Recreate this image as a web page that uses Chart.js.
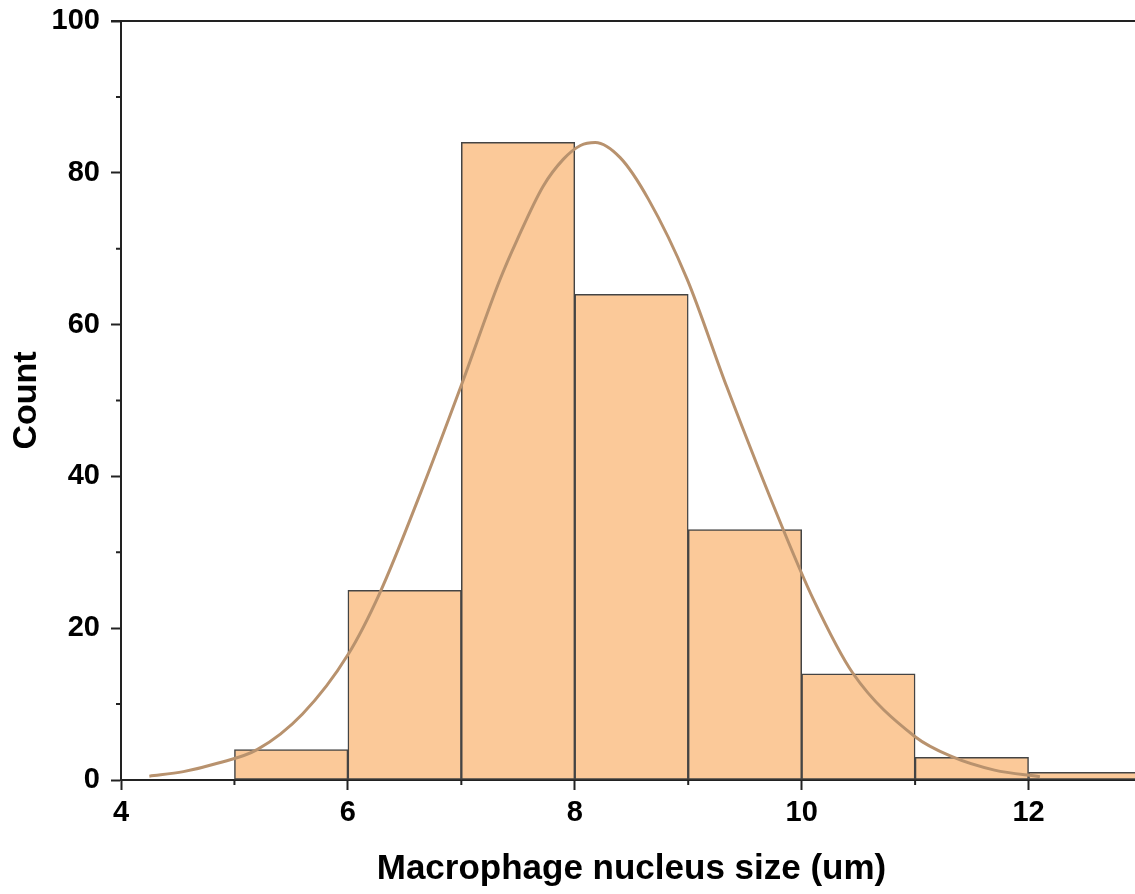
<!DOCTYPE html>
<html>
<head>
<meta charset="utf-8">
<script src="https://cdn.jsdelivr.net/npm/chart.js@4/dist/chart.umd.min.js"></script>
<style>
  html, body { margin: 0; padding: 0; background: #fff; overflow: hidden; }
  #wrap { width: 1135px; height: 894px; overflow: hidden; }
</style>
</head>
<body>
<div id="wrap"><canvas id="histChart" width="1142" height="894"></canvas></div>
<script>
// histogram bins (left edge, width 1) and counts
const binStarts = [5, 6, 7, 8, 9, 10, 11, 12];
const binCounts = [4, 25, 84, 64, 33, 14, 3, 1];

// normal fit curve
const curveX = [4.25, 4.55, 4.85, 5.2, 5.6, 6.0, 6.28, 6.64, 7.0, 7.34, 7.49, 7.72, 7.9, 8.05, 8.18, 8.4, 8.65, 8.99, 9.34, 9.84, 10.1, 10.45, 11.0, 11.32, 11.7, 12.1];
const curveY = [0.5, 1.1, 2.2, 4.0, 8.7, 16.5, 24.6, 37.8, 52, 65.9, 71.1, 78.2, 81.8, 83.6, 84, 82, 76.5, 66, 51.8, 32.9, 23.9, 14.1, 5.7, 3.1, 1.3, 0.44];

const xMajor = [4, 6, 8, 10, 12];
const xMinor = [5, 7, 9, 11, 13];
const yMajor = [0, 20, 40, 60, 80, 100];
const yMinor = [10, 30, 50, 70, 90];

const axisColor = "#222";
const fontFamily = "'Liberation Sans', Arial, Helvetica, sans-serif";

// minor ticks + top frame line
const framePlugin = {
  id: "frame",
  afterDraw(chart) {
    const ctx = chart.ctx;
    const area = chart.chartArea;
    const xs = chart.scales.x;
    const ys = chart.scales.y;
    ctx.save();
    ctx.strokeStyle = axisColor;
    ctx.lineWidth = 2;
    ctx.beginPath();
    ctx.moveTo(area.left - 10, area.top);
    ctx.lineTo(area.right + 2, area.top);
    xMinor.forEach(v => {
      const px = xs.getPixelForValue(v);
      ctx.moveTo(px, area.bottom);
      ctx.lineTo(px, area.bottom + 5);
    });
    yMinor.forEach(v => {
      const py = ys.getPixelForValue(v);
      ctx.moveTo(area.left, py);
      ctx.lineTo(area.left - 5, py);
    });
    ctx.stroke();
    ctx.restore();
  }
};

const ctx = document.getElementById("histChart").getContext("2d");
const chart = new Chart(ctx, {
  data: {
    datasets: [
      {
        type: "line",
        data: curveX.map((x, i) => ({ x: x, y: curveY[i] })),
        borderColor: "#b8926e",
        borderWidth: 3,
        pointRadius: 0,
        cubicInterpolationMode: "monotone",
        order: 1,
      },
      {
        type: "bar",
        data: binStarts.map((s, i) => ({ x: s + 0.5, y: binCounts[i] })),
        backgroundColor: "#fbc999",
        borderColor: "#444",
        borderWidth: 1.5,
        borderSkipped: false,
        barPercentage: 1,
        categoryPercentage: 1,
        grouped: false,
        order: 2,
      },
    ],
  },
  plugins: [framePlugin],
  options: {
    responsive: false,
    animation: false,
    layout: { padding: { top: 21, right: 0, left: 0, bottom: 0 } },
    plugins: { legend: { display: false }, tooltip: { enabled: false } },
    scales: {
      x: {
        type: "linear",
        offset: false,
        min: 4,
        max: 13,
        afterBuildTicks: scale => { scale.ticks = xMajor.map(v => ({ value: v })); },
        afterFit: scale => { scale.height = 114; scale.paddingLeft = 0; scale.paddingRight = 0; },
        grid: { display: true, offset: false, drawOnChartArea: false, drawTicks: true, tickLength: 10, tickWidth: 2, tickColor: axisColor },
        border: { display: true, color: axisColor, width: 2 },
        ticks: { color: "#000", padding: 6, maxRotation: 0, font: { family: fontFamily, size: 29, weight: "bold" } },
        title: {
          display: true,
          text: "Macrophage nucleus size (um)",
          color: "#000",
          padding: { top: 6 },
          font: { family: fontFamily, size: 35, weight: "bold" },
        },
      },
      y: {
        min: 0,
        max: 100,
        afterBuildTicks: scale => { scale.ticks = yMajor.map(v => ({ value: v })); },
        afterFit: scale => { scale.width = 121; scale.paddingTop = 0; scale.paddingBottom = 0; },
        grid: { display: true, drawOnChartArea: false, drawTicks: true, tickLength: 10, tickWidth: 2, tickColor: axisColor },
        border: { display: true, color: axisColor, width: 2 },
        ticks: { color: "#000", padding: 11, font: { family: fontFamily, size: 29, weight: "bold" } },
        title: {
          display: true,
          text: "Count",
          color: "#000",
          padding: { top: 6, bottom: 0 },
          font: { family: fontFamily, size: 34, weight: "bold" },
        },
      },
    },
  },
});
</script>
</body>
</html>
